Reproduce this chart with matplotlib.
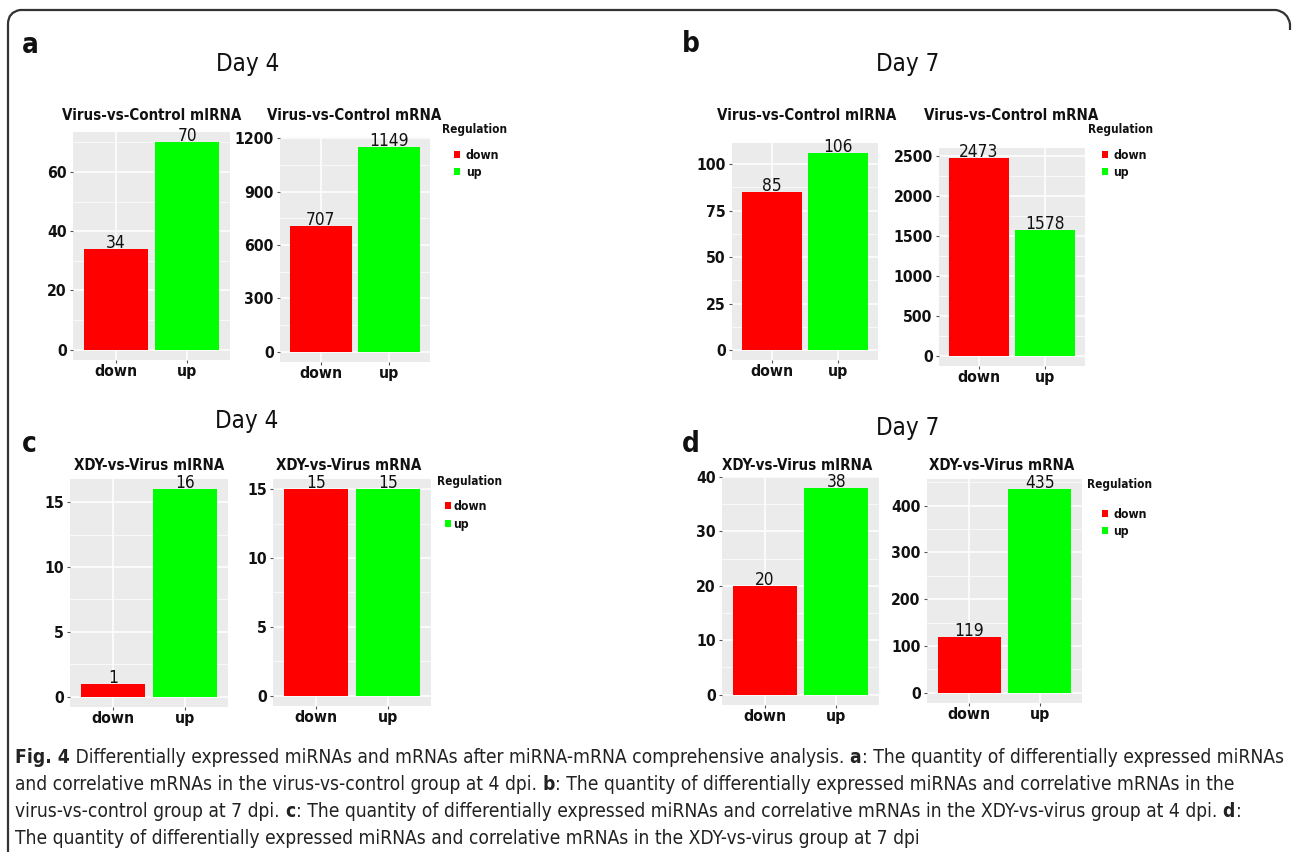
import os
import numpy as np
import matplotlib
matplotlib.use("Agg")
import matplotlib.pyplot as plt
from matplotlib.ticker import MultipleLocator
from matplotlib.patches import Rectangle, PathPatch
from matplotlib.path import Path
from matplotlib import font_manager
from matplotlib.font_manager import FontProperties

W, H = 1292, 852

# ---- data ----
panel_letters = ["a", "b", "c", "d"]
day_titles = ["Day 4", "Day 7", "Day 4", "Day 7"]
mirna_titles = ["Virus-vs-Control mIRNA", "Virus-vs-Control mIRNA",
                "XDY-vs-Virus mIRNA", "XDY-vs-Virus mIRNA"]
mrna_titles = ["Virus-vs-Control mRNA", "Virus-vs-Control mRNA",
               "XDY-vs-Virus mRNA", "XDY-vs-Virus mRNA"]
categories = ["down", "up"]
mirna_down = [34, 85, 1, 20]
mirna_up = [70, 106, 16, 38]
mrna_down = [707, 2473, 15, 119]
mrna_up = [1149, 1578, 15, 435]
mirna_step = [20, 25, 5, 10]
mrna_step = [300, 500, 5, 100]
legend_title = "Regulation"
colors = {"down": "#FF0000", "up": "#00FF00"}

# caption: (text, bold) pieces per line
caption = [
    [("Fig. 4", True), (" Differentially expressed miRNAs and mRNAs after miRNA-mRNA comprehensive analysis.", False),
     (" a", True), (": The quantity of differentially expressed miRNAs", False)],
    [("and correlative mRNAs in the virus-vs-control group at 4 dpi.", False), (" b", True),
     (": The quantity of differentially expressed miRNAs and correlative mRNAs in the", False)],
    [("virus-vs-control group at 7 dpi.", False), (" c", True),
     (": The quantity of differentially expressed miRNAs and correlative mRNAs in the XDY-vs-virus group at 4 dpi.", False),
     (" d", True), (":", False)],
    [("The quantity of differentially expressed miRNAs and correlative mRNAs in the XDY-vs-virus group at 7 dpi", False)],
]

# ---- layout in pixels ----
mirna_box = [(73, 132, 230, 360), (732, 143, 878, 360), (70, 479, 228, 707), (722, 477, 879, 705)]
mrna_box = [(280, 137, 430, 362), (939, 148, 1085, 366), (273, 479, 431, 706), (927, 479, 1082, 703)]
mirna_title_pos = [(152, 120), (807, 120), (149, 470), (797, 470)]
mrna_title_pos = [(354, 120), (1011, 120), (349, 470), (1002, 470)]
letter_pos = [(22, 53), (682, 52), (22, 452), (682, 452)]
day_pos = [(248, 71), (908, 71), (247, 428), (908, 435)]
legend_x = [(442, 454, 466), (1088, 1102, 1113), (437, 445, 453), (1087, 1102, 1113)]
legend_y = [(133, 159, 176), (133, 159, 176), (485, 510, 528), (488, 518, 535)]


def pick(keys, bold):
    excl = ["italic", "oblique", "light", "thin", "black", "medium", "semi", "extra", "book"]
    for key in keys:
        for f in font_manager.fontManager.ttflist:
            b = os.path.basename(f.fname).lower().replace("-", "").replace("_", "").replace(" ", "")
            if key not in b or any(e in b for e in excl):
                continue
            if ("bold" in b) == bold:
                return f.fname
    return font_manager.findfont(FontProperties(family="Liberation Sans",
                                                weight="bold" if bold else "normal"))


keys = ["liberationsansnarrow", "dejavusanscondensed", "notosanscondensed",
        "opensanscondensed", "robotocondensed"]
FILE_B = pick(keys, True)
FILE_R = pick(keys, False)


def fp(bold, size):
    return FontProperties(fname=FILE_B if bold else FILE_R, size=size)


fig = plt.figure(figsize=(W / 100, H / 100), dpi=100)
R = fig.canvas.get_renderer()


def fx(x):
    return x / W


def fy(y):
    return 1 - y / H


def text_w(s, bold, size):
    t = fig.text(0, 0, s, fontproperties=fp(bold, size))
    w = t.get_window_extent(renderer=R).width
    t.remove()
    return w


def fit(s, bold, target):
    return 20 * target / text_w(s, bold, 20)


# sizes from reference widths, nudged up since the reference glyphs are taller
title_fs = fit("Virus-vs-Control mIRNA", True, 163) * 1.1
tick_fs = (fit("down", True, 38) + fit("1200", True, 34)) / 2 * 1.15
val_fs = fit("1149", False, 33) * 1.2
day_fs = fit("Day 4", False, 53) * 1.2
letter_fs = fit("a", True, 13) * 1.3
legt_fs = fit("Regulation", True, 60) * 1.08
leg_fs = fit("down", True, 31) * 1.08
cap_fs = 20 * 1270 / sum(text_w(s, b, 20) for s, b in caption[0])


def add_box(b):
    x0, y0, x1, y1 = b
    return fig.add_axes([fx(x0), fy(y1), (x1 - x0) / W, (y1 - y0) / H])


def draw_bars(ax, vals, step):
    x = np.arange(1, len(categories) + 1)
    ax.bar(x, vals, width=0.9, color=[colors[c] for c in categories], zorder=2)
    top = max(vals)
    upper = 1.05 * top
    # a break sitting just past the padded top still gets its label (as in the 40 of panel d)
    nxt = np.ceil(upper / step) * step
    if nxt <= 1.06 * top:
        upper = nxt + 0.001 * step
    ax.set_xlim(0.4, 2.6)
    ax.set_ylim(-0.05 * top, upper)
    ax.yaxis.set_major_locator(MultipleLocator(step))
    ax.yaxis.set_minor_locator(MultipleLocator(step / 2))
    ax.set_facecolor("#EBEBEB")
    ax.grid(which="major", color="white", lw=1.1)
    ax.grid(which="minor", axis="y", color="white", lw=0.5)
    ax.set_axisbelow(True)
    for s in ax.spines.values():
        s.set_visible(False)
    ax.set_xticks(x, categories)
    ax.tick_params(which="major", length=2.5, width=0.8, color="#555555")
    ax.tick_params(axis="y", pad=2)
    ax.tick_params(axis="x", pad=0.5)
    ax.tick_params(which="minor", length=0)
    for lab in ax.get_xticklabels() + ax.get_yticklabels():
        lab.set_fontproperties(fp(True, tick_fs))
        lab.set_color("#111111")
    for xi, v in zip(x, vals):
        ax.annotate(str(v), (xi, v), xytext=(0, 1), textcoords="offset pixels",
                    ha="center", va="baseline", fontproperties=fp(False, val_fs),
                    color="#111111")


for i in range(4):
    ax1 = add_box(mirna_box[i])
    draw_bars(ax1, [mirna_down[i], mirna_up[i]], mirna_step[i])
    ax2 = add_box(mrna_box[i])
    draw_bars(ax2, [mrna_down[i], mrna_up[i]], mrna_step[i])

    for (tx, ty), s in [(mirna_title_pos[i], mirna_titles[i]), (mrna_title_pos[i], mrna_titles[i])]:
        fig.text(fx(tx), fy(ty), s, fontproperties=fp(True, title_fs), color="#111111",
                 ha="center", va="baseline")

    lx, ly = letter_pos[i]
    fig.text(fx(lx), fy(ly), panel_letters[i], fontproperties=fp(True, letter_fs),
             color="#111111", ha="left", va="baseline")
    dx, dy = day_pos[i]
    fig.text(fx(dx), fy(dy), day_titles[i], fontproperties=fp(False, day_fs),
             color="#111111", ha="center", va="baseline")

    gx, kx, tx = legend_x[i]
    gy, y_down, y_up = legend_y[i]
    fig.text(fx(gx), fy(gy), legend_title, fontproperties=fp(True, legt_fs),
             color="#111111", ha="left", va="baseline")
    for c, ky in zip(categories, (y_down, y_up)):
        fig.patches.append(Rectangle((fx(kx), fy(ky - 1)), 6 / W, 7 / H,
                                     transform=fig.transFigure, facecolor=colors[c],
                                     edgecolor="none"))
        fig.text(fx(tx), fy(ky), c, fontproperties=fp(True, leg_fs),
                 color="#111111", ha="left", va="baseline")

# caption, piece by piece
for j, line in enumerate(caption):
    x = 15
    for s, b in line:
        t = fig.text(fx(x), fy(763 + 27 * j), s, fontproperties=fp(b, cap_fs),
                     color="#222222", ha="left", va="baseline")
        x += t.get_window_extent(renderer=R).width

# frame
verts = [(8, 852), (8, 24), (8, 12), (20, 10), (1276, 10), (1288, 12), (1290, 24), (1290, 30)]
codes = [Path.MOVETO, Path.LINETO, Path.CURVE3, Path.CURVE3, Path.LINETO,
         Path.CURVE3, Path.CURVE3, Path.LINETO]
frame = Path([(fx(x), fy(y)) for x, y in verts], codes)
fig.patches.append(PathPatch(frame, transform=fig.transFigure, facecolor="none",
                             edgecolor="#333333", lw=1.6))

fig.savefig("out.png", dpi=100)
